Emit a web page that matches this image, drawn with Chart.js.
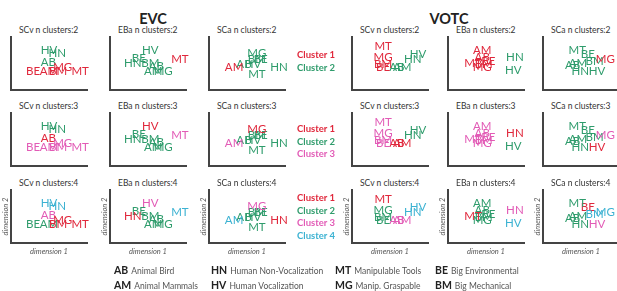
<!DOCTYPE html>
<html>
<head>
<meta charset="utf-8">
<script src="https://cdn.jsdelivr.net/npm/chart.js@4.4.1/dist/chart.umd.min.js"></script>
<style>
  html, body { margin: 0; padding: 0; background: #fff; }
  body { width: 617px; height: 291px; position: relative; overflow: hidden; font-family: Lato, "Open Sans", sans-serif; }
  .abs { position: absolute; white-space: nowrap; }
  .group { font-weight: bold; font-size: 14.5px; color: #222; transform: translate(-50%, -50%); }
  .ptitle { font-size: 8.5px; color: #333; transform: translateY(-50%); }
  .cl { font-weight: bold; font-size: 9.5px; transform: translateY(-50%); }
  .key { font-size: 8.5px; color: #555; transform: translateY(-50%); }
  .key b { font-size: 10.5px; color: #222; margin-right: 3px; }
  canvas { position: absolute; }
</style>
</head>
<body>
<script>
// categories, in the order of every array below
const categories = ['AB', 'AM', 'BE', 'BM', 'HN', 'HV', 'MG', 'MT'];
const categoryNames = ['Animal Bird', 'Animal Mammals', 'Big Environmental', 'Big Mechanical',
  'Human Non-Vocalization', 'Human Vocalization', 'Manip. Graspable', 'Manipulable Tools'];

// MDS coordinates (dimension 1, dimension 2)
const evcSCvX = [49, 50, 29, 62, 61, 50, 68, 91];
const evcSCvY = [53, 36, 36, 36, 70, 75, 42, 36];
const evcEBaX = [61, 57, 38, 53, 30, 53, 70, 92];
const evcEBaY = [45, 36, 60, 51, 51, 75, 36, 57];
const evcSCaX = [46, 33, 68, 63, 92, 58, 63, 63];
const evcSCaY = [49, 43, 57, 58, 43, 49, 70, 30];
const votcSCvX = [59, 66, 41, 41, 80, 87, 41, 41];
const votcSCvY = [42, 42, 42, 49, 58, 68, 62, 83];
const votcEBaX = [45, 45, 53, 47, 88, 86, 45, 33];
const votcEBaY = [62, 75, 55, 49, 62, 38, 42, 51];
const votcSCaX = [39, 46, 59, 68, 49, 71, 82, 45];
const votcSCaY = [47, 51, 68, 55, 36, 36, 57, 75];

// cluster membership for n clusters = 2, 3, 4
const evcSCvClusters = [[2, 1, 1, 1, 2, 2, 1, 1], [1, 3, 3, 3, 2, 2, 3, 3], [3, 2, 2, 1, 4, 4, 1, 1]];
const evcEBaClusters = [[2, 2, 2, 2, 2, 2, 2, 1], [2, 2, 2, 2, 2, 1, 2, 3], [2, 2, 2, 2, 1, 3, 2, 4]];
const evcSCaClusters = [[2, 1, 2, 2, 2, 2, 2, 2], [2, 3, 2, 2, 2, 2, 1, 2], [2, 4, 2, 2, 1, 2, 3, 2]];
const votcSCvClusters = [[2, 2, 1, 1, 2, 2, 1, 1], [1, 1, 3, 3, 2, 2, 3, 3], [3, 3, 2, 2, 4, 4, 2, 1]];
const votcEBaClusters = [[1, 1, 1, 1, 2, 2, 1, 1], [3, 3, 3, 3, 1, 2, 3, 3], [2, 2, 2, 2, 3, 4, 2, 1]];
const votcSCaClusters = [[2, 2, 2, 2, 2, 2, 1, 2], [2, 2, 2, 2, 2, 1, 3, 2], [2, 2, 1, 4, 2, 3, 4, 2]];

const nClusters = [2, 3, 4];
const clusterColors = ['#e0283c', '#2f9c6c', '#e25bb6', '#3cb2d2'];

const panels = [
  { method: 'SCv', x: evcSCvX, y: evcSCvY, clusters: evcSCvClusters, left: 11 },
  { method: 'EBa', x: evcEBaX, y: evcEBaY, clusters: evcEBaClusters, left: 110 },
  { method: 'SCa', x: evcSCaX, y: evcSCaY, clusters: evcSCaClusters, left: 209 },
  { method: 'SCv', x: votcSCvX, y: votcSCvY, clusters: votcSCvClusters, left: 352 },
  { method: 'EBa', x: votcEBaX, y: votcEBaY, clusters: votcEBaClusters, left: 448 },
  { method: 'SCa', x: votcSCaX, y: votcSCaY, clusters: votcSCaClusters, left: 543 }
];
const rowTops = [37, 113, 190];
const areaW = 76, areaH = 53;

function addText(cls, text, left, top, color) {
  const el = document.createElement('div');
  el.className = 'abs ' + cls;
  el.style.left = left + 'px';
  el.style.top = top + 'px';
  if (color) el.style.color = color;
  el.innerHTML = text;
  document.body.appendChild(el);
  return el;
}

// text labels drawn where the library placed each point
const labelPlugin = {
  id: 'pointLabels',
  afterDatasetsDraw(chart) {
    const ctx = chart.ctx;
    const ds = chart.data.datasets[0];
    const meta = chart.getDatasetMeta(0);
    ctx.save();
    ctx.font = '11.5px Lato, "Open Sans", sans-serif';
    ctx.textAlign = 'center';
    ctx.textBaseline = 'middle';
    meta.data.forEach((pt, i) => {
      ctx.fillStyle = ds.pointBackgroundColor[i];
      ctx.fillText(categories[i], pt.x, pt.y);
    });
    ctx.restore();
  }
};

function axisOptions(title, showTitle) {
  return {
    type: 'linear',
    min: 0,
    max: 100,
    grid: { display: false, drawTicks: false },
    border: { display: true, color: '#444', width: 2 },
    ticks: { display: false },
    title: {
      display: showTitle,
      text: title,
      color: '#555',
      padding: { top: 4, bottom: 1 },
      font: { family: 'Lato, "Open Sans", sans-serif', size: 7.5, style: 'italic' }
    }
  };
}

function makePanel(panel, row) {
  const top = rowTops[row];
  const k = nClusters[row];
  const withTitles = row === 2;

  addText('ptitle', panel.method + ' n clusters:' + k, panel.left + 8, top - 7);

  const canvas = document.createElement('canvas');
  canvas.width = 110;
  canvas.height = 80;
  document.body.appendChild(canvas);

  const chart = new Chart(canvas, {
    type: 'scatter',
    data: {
      datasets: [{
        data: panel.x.map((v, i) => ({ x: v, y: panel.y[i] })),
        pointRadius: 0,
        pointBackgroundColor: panel.clusters[row].map(c => clusterColors[c - 1])
      }]
    },
    options: {
      responsive: false,
      maintainAspectRatio: false,
      animation: false,
      devicePixelRatio: 1,
      layout: { padding: { left: 2, top: 1, right: 14, bottom: 1 } },
      plugins: { legend: { display: false }, tooltip: { enabled: false } },
      scales: {
        x: axisOptions('dimension 1', withTitles),
        y: axisOptions('dimension 2', withTitles)
      }
    },
    plugins: [labelPlugin]
  });

  // size the canvas so the plot area is areaW x areaH, then line it up
  const a = chart.chartArea;
  const w = Math.round(canvas.width - (a.right - a.left) + areaW);
  const h = Math.round(canvas.height - (a.bottom - a.top) + areaH);
  chart.resize(w, h);
  const b = chart.chartArea;
  canvas.style.left = (panel.left - b.left) + 'px';
  canvas.style.top = (top - b.top) + 'px';
}

addText('group', 'EVC', 153, 18);
addText('group', 'VOTC', 449, 18);

rowTops.forEach((top, row) => panels.forEach(p => makePanel(p, row)));

// cluster legends
const legendTops = [54, 128, 197];
legendTops.forEach((y0, row) => {
  for (let c = 0; c < nClusters[row]; c++) {
    addText('cl', 'Cluster ' + (c + 1), 297, y0 + c * 12.5, clusterColors[c]);
  }
});

// category key
const keyCols = [114, 211, 335, 435];
const keyRows = [270, 285];
const keyOrder = [['AB', 'AM'], ['HN', 'HV'], ['MT', 'MG'], ['BE', 'BM']];
keyOrder.forEach((pair, ci) => {
  pair.forEach((code, ri) => {
    const name = categoryNames[categories.indexOf(code)];
    addText('key', '<b>' + code + '</b>' + name, keyCols[ci], keyRows[ri]);
  });
});
</script>
</body>
</html>
